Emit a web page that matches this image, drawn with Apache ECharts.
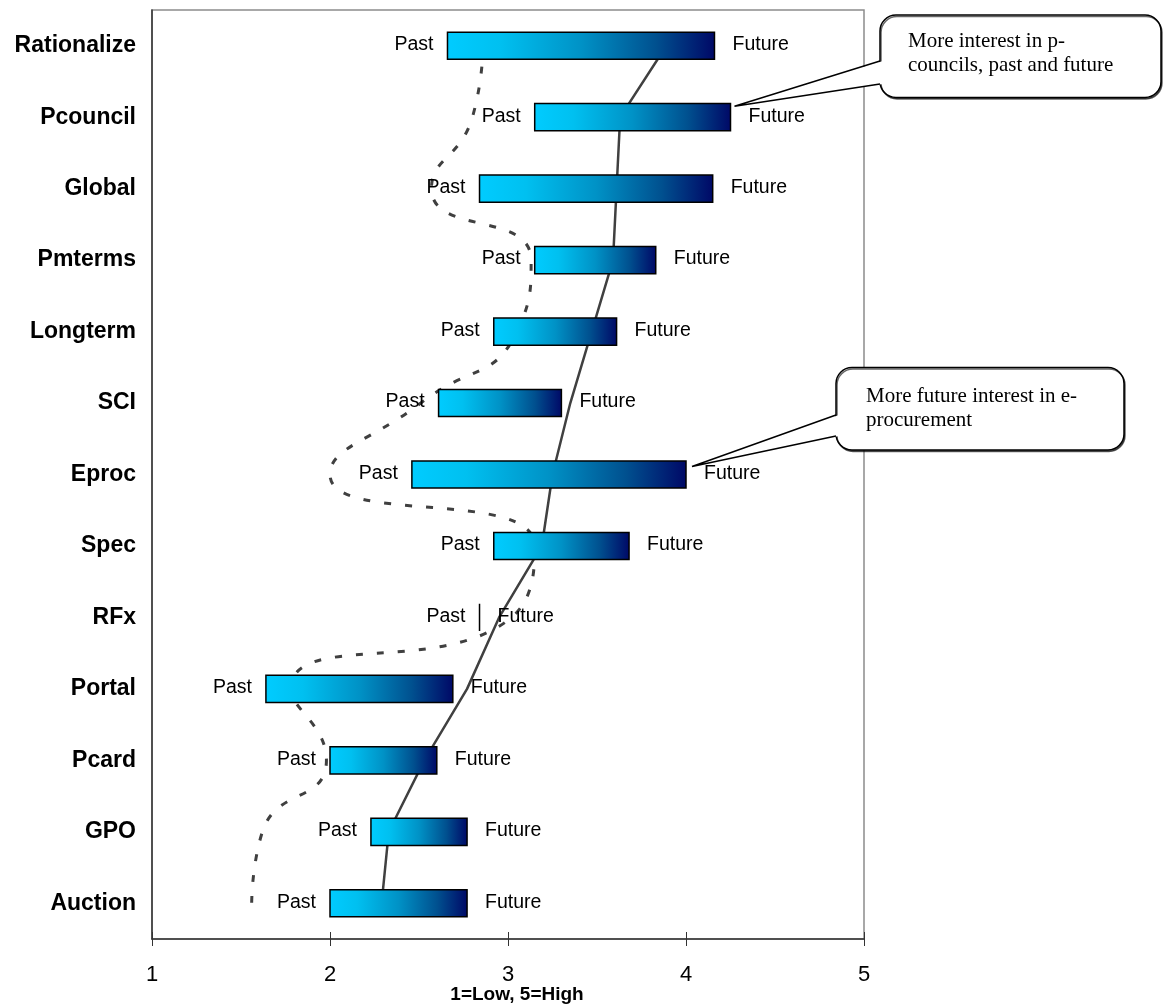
<!DOCTYPE html>
<html>
<head>
<meta charset="utf-8">
<script src="https://cdn.jsdelivr.net/npm/echarts@6/dist/echarts.min.js"></script>
<style>
  html, body { margin: 0; padding: 0; background: #ffffff; }
  #chart { width: 1163px; height: 1006px; }
</style>
</head>
<body>
<div id="chart"></div>
<script>
// Interest ratings (1 = low, 5 = high): past level vs. expected future level
const categories = ['Rationalize', 'Pcouncil', 'Global', 'Pmterms', 'Longterm', 'SCI', 'Eproc',
                    'Spec', 'RFx', 'Portal', 'Pcard', 'GPO', 'Auction'];
const pastValues   = [2.66, 3.15, 2.84, 3.15, 2.92, 2.61, 2.46, 2.92, 2.84, 1.64, 2.00, 2.23, 2.00];
const futureValues = [4.16, 4.25, 4.15, 3.83, 3.61, 3.30, 4.00, 3.68, 2.84, 2.69, 2.60, 2.77, 2.77];

// Trend lines drawn behind the bars
const futureTrend = [3.89, 3.63, 3.61, 3.59, 3.47, 3.35, 3.25, 3.19, 2.95, 2.77, 2.53, 2.33, 2.29];
const pastTrend   = [2.86, 2.80, 2.57, 3.13, 3.05, 2.51, 2.00, 3.15, 3.02, 1.78, 1.98, 1.62, 1.56];

const axisMin = 1, axisMax = 5, axisStep = 1;
const axisTitle = '1=Low, 5=High';
const pastLabel = 'Past', futureLabel = 'Future';

const notePcouncil = ['More interest in p-', 'councils, past and future'];
const noteEproc = ['More future interest in e-', 'procurement'];

const SANS = '"Liberation Sans", Arial, sans-serif';
const SERIF = '"Liberation Serif", "Times New Roman", serif';

const barGradient = {
  type: 'linear', x: 0, y: 0, x2: 1, y2: 0,
  colorStops: [
    { offset: 0, color: '#00CCFF' },
    { offset: 0.2, color: '#00C0F0' },
    { offset: 0.5, color: '#0092C6' },
    { offset: 0.78, color: '#00508F' },
    { offset: 1, color: '#000866' }
  ]
};

const rangeData = categories.map((c, i) => [pastValues[i], futureValues[i], i]);

function renderRange(params, api) {
  const cat = api.value(2);
  const a = api.coord([api.value(0), cat]);
  const b = api.coord([api.value(1), cat]);
  const h = api.size([0, 1])[1] * 0.38;
  const labelFont = { fontSize: 19.5, fontFamily: SANS, fill: '#000' };
  return {
    type: 'group',
    children: [
      {
        type: 'rect',
        shape: { x: a[0], y: a[1] - h / 2, width: b[0] - a[0], height: h },
        style: { fill: barGradient, stroke: '#000', lineWidth: 1.5 }
      },
      {
        type: 'text', x: a[0] - 14, y: a[1] - 1,
        style: Object.assign({ text: pastLabel, align: 'right', verticalAlign: 'middle',
                               textAlign: 'right', textVerticalAlign: 'middle' }, labelFont)
      },
      {
        type: 'text', x: b[0] + 18, y: b[1] - 1,
        style: Object.assign({ text: futureLabel, align: 'left', verticalAlign: 'middle',
                               textAlign: 'left', textVerticalAlign: 'middle' }, labelFont)
      }
    ]
  };
}

const chart = echarts.init(document.getElementById('chart'), null, { renderer: 'canvas' });

chart.setOption({
  animation: false,
  backgroundColor: '#ffffff',
  grid: {
    left: 152, right: 299, top: 10, bottom: 67,
    show: true, borderColor: '#8c8c8c', borderWidth: 1.5, backgroundColor: 'transparent',
    containLabel: false, outerBoundsMode: 'none'
  },
  xAxis: [
    {
      type: 'value', min: axisMin, max: axisMax, interval: axisStep, position: 'bottom',
      name: axisTitle, nameLocation: 'middle', nameGap: 46, nameMoveOverlap: false,
      nameTextStyle: { fontFamily: SANS, fontSize: 19, fontWeight: 'bold', color: '#000', padding: [0, 0, 0, 18] },
      axisLine: { show: true, lineStyle: { color: '#333', width: 1.5 } },
      axisTick: { show: true, inside: false, length: 7, lineStyle: { color: '#333', width: 1 } },
      axisLabel: { fontFamily: SANS, fontSize: 22, color: '#000', margin: 25 },
      splitLine: { show: false }
    },
    {
      type: 'value', min: axisMin, max: axisMax, interval: axisStep, position: 'bottom',
      axisLine: { show: false },
      axisTick: { show: true, inside: true, length: 7, lineStyle: { color: '#333', width: 1 } },
      axisLabel: { show: false },
      splitLine: { show: false }
    }
  ],
  yAxis: {
    type: 'category', data: categories, inverse: true,
    axisLine: { show: true, lineStyle: { color: '#333', width: 1.5 } },
    axisTick: { show: false },
    axisLabel: { fontFamily: SANS, fontSize: 23, fontWeight: 'bold', color: '#000', margin: 16 },
    splitLine: { show: false }
  },
  series: [
    {
      name: 'Future trend', type: 'line', xAxisIndex: 0, yAxisIndex: 0,
      data: futureTrend, showSymbol: false, symbol: 'none', z: 2,
      lineStyle: { color: '#404040', width: 2.5 }
    },
    {
      name: 'Past trend', type: 'line', xAxisIndex: 0, yAxisIndex: 0,
      data: pastTrend, showSymbol: false, symbol: 'none', smooth: 0.55, z: 2,
      lineStyle: { color: '#404040', width: 3, type: [7, 14], cap: 'butt' }
    },
    {
      name: 'Past to future', type: 'custom', xAxisIndex: 0, yAxisIndex: 0,
      renderItem: renderRange, data: rangeData, z: 3,
      encode: { x: [0, 1], y: 2 }
    }
  ]
});

// Callout boxes pointing at the end of a bar
function callout(box, tip, baseY1, baseY2, lines, textX, textTop) {
  return [
    {
      type: 'rect', z: 100,
      shape: { x: box.x, y: box.y, width: box.w, height: box.h, r: 16 },
      style: { fill: '#fff', stroke: '#000', lineWidth: 1.5,
               shadowColor: 'rgba(0,0,0,0.6)', shadowOffsetX: 1, shadowOffsetY: 1.5, shadowBlur: 0 }
    },
    {
      type: 'polygon', z: 101,
      shape: { points: [tip, [box.x + 3, baseY1], [box.x + 3, baseY2]] },
      style: { fill: '#fff', stroke: null }
    },
    {
      type: 'polyline', z: 102,
      shape: { points: [[box.x, baseY1], tip, [box.x, baseY2]] },
      style: { stroke: '#000', lineWidth: 1.5, fill: null }
    },
    {
      type: 'text', z: 103, x: textX, y: textTop,
      style: { text: lines.join('\n'), fontFamily: SERIF, fontSize: 21, lineHeight: 24,
               fill: '#000', align: 'left', verticalAlign: 'top' }
    }
  ];
}

const finder = { xAxisIndex: 0, yAxisIndex: 0 };
const iP = categories.indexOf('Pcouncil');
const iE = categories.indexOf('Eproc');
const endP = chart.convertToPixel(finder, [futureValues[iP], iP]);
const endE = chart.convertToPixel(finder, [futureValues[iE], iE]);
const tipP = [endP[0] + 4, endP[1] - 11];
const tipE = [endE[0] + 6, endE[1] - 8];

chart.setOption({
  graphic: [].concat(
    callout({ x: 880, y: 15, w: 281, h: 82.5 }, tipP, 61, 84, notePcouncil, 908, 29),
    callout({ x: 836, y: 367.5, w: 288, h: 82.5 }, tipE, 415, 436, noteEproc, 866, 384)
  )
});
</script>
</body>
</html>
